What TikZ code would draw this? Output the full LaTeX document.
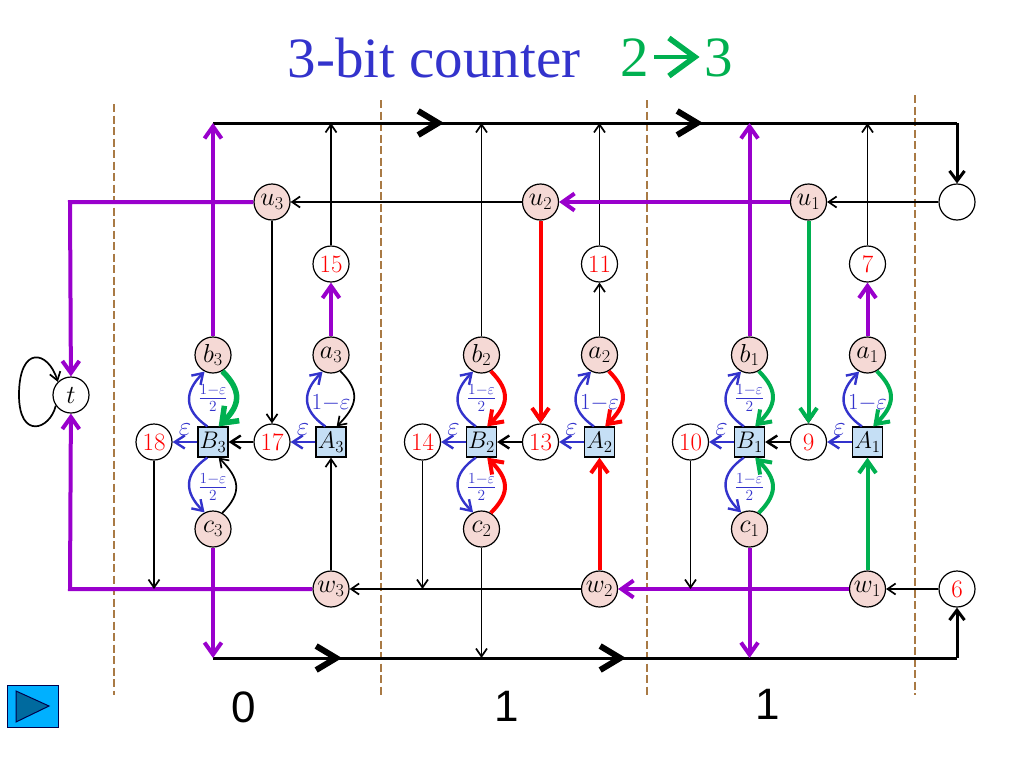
\documentclass[tikz,border=0pt]{standalone}
\usepackage{fix-cm}
\usepackage{amsmath}
\usepackage{fontspec}
\usepackage{tikz}
\usetikzlibrary{arrows.meta}
\newfontfamily\titlefont{Liberation Serif}
\newfontfamily\digitfont{Liberation Sans}
\definecolor{gadgetpurple}{HTML}{9900CC}
\definecolor{gadgetgreen}{HTML}{00B050}
\definecolor{gadgetblue}{HTML}{3333CC}
\definecolor{gadgetpink}{HTML}{F5D9D5}
\definecolor{gadgetsquare}{HTML}{C5DFF5}
\definecolor{walllbrown}{HTML}{A97A45}
\definecolor{buttonblue}{HTML}{00B0FF}
\definecolor{buttondark}{HTML}{006A9E}
\tikzset{
	circ/.style = {circle, draw, line width = 1.2pt, minimum size = 36pt, inner sep = 0pt, fill = white, font = \fontsize{26}{30}\selectfont},
	pinkcirc/.style = {circ, fill = gadgetpink},
	numcirc/.style = {circ, text = red, font = \fontsize{25}{28}\selectfont},
	sqr/.style = {draw, line width = 1.2pt, minimum size = 30pt, inner sep = 0pt, fill = gadgetsquare, font = \fontsize{24}{28}\selectfont},
	thinedge/.style = {black, line width = 1.7pt, -{Straight Barb[length=8pt,width=11pt]}},
	midedge/.style = {black, line width = 2.4pt, -{Straight Barb[length=10pt,width=13pt]}},
	blueedge/.style = {gadgetblue, line width = 2.4pt, -{Straight Barb[length=10pt,width=13pt]}},
	purpleedge/.style = {gadgetpurple, line width = 4pt, -{Straight Barb[length=12pt,width=17pt]}},
	greenedge/.style = {gadgetgreen, line width = 4pt, -{Straight Barb[length=12pt,width=17pt]}},
	fatgreenedge/.style = {gadgetgreen, line width = 5.5pt, -{Straight Barb[length=14pt,width=21pt]}},
	rededge/.style = {red, line width = 4pt, -{Straight Barb[length=12pt,width=17pt]}},
	railedge/.style = {black, line width = 3pt},
	railtip/.style = {railedge, -{Straight Barb[length=20pt,width=24pt,line width=6pt]}},
	railend/.style = {railedge, -{Straight Barb[length=10pt,width=15pt]}},
	wall/.style = {walllbrown, line width = 2.8pt, dash pattern = on 8pt off 3.5pt},
	bluetext/.style = {text = gadgetblue, inner sep = 0pt}
}
% one bit: index, left number, middle number, top number, then the edge styles of b, c, a
\newcommand{\counterbit}[7]{
	\node[pinkcirc] (b#1) at (213,355) {$b_#1$};
	\node[pinkcirc] (a#1) at (331,355) {$a_#1$};
	\node[pinkcirc] (c#1) at (213,529) {$c_#1$};
	\node[sqr] (B#1) at (213,442) {$B_#1$};
	\node[sqr] (A#1) at (331,442) {$A_#1$};
	\node[numcirc] (left#1) at (154,442) {#2};
	\node[numcirc] (mid#1) at (272,442) {#3};
	\node[numcirc] (up#1) at (331,264) {#4};
	\node[pinkcirc] (u#1) at (272,202) {$u_#1$};
	\node[pinkcirc] (w#1) at (331,589) {$w_#1$};
	\coordinate (top#1) at (213,123);
	\coordinate (topa#1) at (331,123);
	\coordinate (bot#1) at (213,658);
	\coordinate (foot#1) at (154,589);
	\draw[blueedge] (B#1.110) to[out=145,in=225,looseness=1.35] (b#1.243);
	\draw[blueedge] (B#1.250) to[out=215,in=135,looseness=1.35] (c#1.117);
	\draw[blueedge] (A#1.110) to[out=145,in=225,looseness=1.35] (a#1.243);
	\draw[#5] (b#1.-60) to[out=-45,in=45,looseness=1.35] (B#1.70);
	\draw[#6] (c#1.60) to[out=45,in=-45,looseness=1.35] (B#1.-70);
	\draw[#7] (a#1.-60) to[out=-45,in=45,looseness=1.35] (A#1.70);
	\draw[blueedge] (B#1) -- (left#1);
	\draw[blueedge] (A#1) -- (mid#1);
	\draw[midedge] (mid#1) -- (B#1);
	\node[bluetext, font = \fontsize{22}{22}\selectfont] (fracb#1) at (213,398) {$\frac{1-\varepsilon}{2}$};
	\node[bluetext, font = \fontsize{22}{22}\selectfont] (fracc#1) at (213,487) {$\frac{1-\varepsilon}{2}$};
	\node[bluetext, font = \fontsize{23}{23}\selectfont] (fraca#1) at (331,403) {$1{-}\varepsilon$};
	\node[bluetext, font = \fontsize{27}{27}\selectfont] (epsb#1) at (185,430) {$\varepsilon$};
	\node[bluetext, font = \fontsize{27}{27}\selectfont] (epsa#1) at (303,430) {$\varepsilon$};
	\draw[thinedge] (u#1) -- (mid#1);
}
\begin{document}
\begin{tikzpicture}[x=1pt, y=-1pt]
	\useasboundingbox (0,0) rectangle (1024,768);

	\draw[wall] (114,104) -- (114,695);
	\draw[wall] (381,100) -- (381,695);
	\draw[wall] (647,100) -- (647,695);
	\draw[wall] (915,95) -- (915,695);

	\node[text = gadgetblue, font = \titlefont\fontsize{57}{60}\selectfont] (title) at (434,58) {3-bit counter};
	\node[text = gadgetgreen, font = \titlefont\fontsize{57}{60}\selectfont, inner sep = 0pt] (two) at (635,58) {2};
	\node[text = gadgetgreen, font = \titlefont\fontsize{57}{60}\selectfont, inner sep = 0pt] (three) at (719,58) {3};
	\draw[gadgetgreen, line width = 3.5pt, -{Straight Barb[length=26pt,width=38pt,line width=5.5pt]}, shorten <= 5pt, shorten >= 5pt] (two.east |- 0,57) -- (three.west |- 0,57);

	\node[circ] (t) at (71,395) {$t$};
	\node[circ] (start) at (957,202) {};
	\node[numcirc] (six) at (957,589) {6};

	\begin{scope}[xshift = 536.5pt]
		\counterbit{1}{10}{9}{7}{greenedge}{greenedge}{greenedge}
	\end{scope}

	\begin{scope}[xshift = 268.5pt]
		\counterbit{2}{14}{13}{11}{rededge}{rededge}{rededge}
	\end{scope}

	\begin{scope}
		\counterbit{3}{18}{17}{15}{fatgreenedge}{thinedge}{thinedge}
	\end{scope}

	\coordinate (railtopa) at (444,123);
	\coordinate (railtopb) at (703,123);
	\coordinate (railtopc) at (957,123);
	\coordinate (railbota) at (342,658);
	\coordinate (railbotb) at (626,658);
	\coordinate (railbotc) at (957,658);
	\coordinate (leftu) at (70,202);
	\coordinate (leftw) at (70,589);

	\draw[railedge] (top3) -- (railtopc);
	\draw[railend] (railtopc) -- (start);
	\draw[railtip] (top3) -- (railtopa);
	\draw[railtip] (railtopa) -- (railtopb);
	\draw[railedge] (bot3) -- (railbotc);
	\draw[railend] (railbotc) -- (six);
	\draw[railtip] (bot3) -- (railbota);
	\draw[railtip] (railbota) -- (railbotb);

	\draw[purpleedge] (b3) -- (top3);
	\draw[thinedge] (b2) -- (top2);
	\draw[purpleedge] (b1) -- (top1);
	\draw[purpleedge] (c3) -- (bot3);
	\draw[thinedge] (c2) -- (bot2);
	\draw[purpleedge] (c1) -- (bot1);

	\draw[purpleedge] (a3) -- (up3);
	\draw[thinedge] (a2) -- (up2);
	\draw[purpleedge] (a1) -- (up1);
	\draw[thinedge] (up3) -- (topa3);
	\draw[thinedge] (up2) -- (topa2);
	\draw[thinedge] (up1) -- (topa1);

	\draw[thinedge] (start) -- (u1);
	\draw[purpleedge] (u1) -- (u2);
	\draw[thinedge] (u2) -- (u3);
	\draw[purpleedge] (u3) -- (leftu) -- (t);

	\draw[thinedge] (six) -- (w1);
	\draw[purpleedge] (w1) -- (w2);
	\draw[thinedge] (w2) -- (w3);
	\draw[purpleedge] (w3) -- (leftw) -- (t);

	\draw[thinedge] (w3) -- (A3);
	\draw[rededge] (w2) -- (A2);
	\draw[greenedge] (w1) -- (A1);
	\draw[rededge] (u2) -- (mid2);
	\draw[greenedge] (u1) -- (mid1);

	\draw[thinedge] (left3) -- (foot3);
	\draw[thinedge] (left2) -- (foot2);
	\draw[thinedge] (left1) -- (foot1);

	\draw[thinedge] (t.215) .. controls (50,430) and (19,440) .. (19,395) .. controls (19,345) and (48,350) .. (t.135);

	\node[font = \digitfont\fontsize{44}{46}\selectfont] (bitc) at (244,707) {0};
	\node[font = \digitfont\fontsize{44}{46}\selectfont] (bitb) at (507,706) {1};
	\node[font = \digitfont\fontsize{44}{46}\selectfont] (bita) at (768,704) {1};

	\draw[fill = buttonblue, draw = black!70!blue, line width = 1pt] (7,685) rectangle (58,727);
	\draw[fill = buttondark, draw = black!70!blue, line width = 1pt] (16,691) -- (16,722) -- (49,706) -- cycle;
\end{tikzpicture}
\end{document}
